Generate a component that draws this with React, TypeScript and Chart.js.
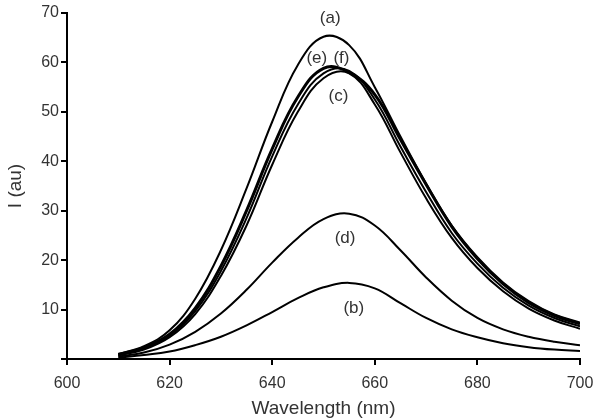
import React, { useEffect, useRef } from "react";
import { Chart, registerables } from "chart.js";

Chart.register(...registerables);

const wavelengths = [610, 615, 620, 625, 630, 635, 640, 645, 650, 655, 660, 665, 670, 675, 680, 685, 690, 695, 700];

const seriesA = [1.0, 2.6, 5.8, 12.2, 22, 34.5, 48, 59.5, 65.2, 63.5, 55, 45, 35.5, 27, 20.6, 15.5, 11.7, 9.0, 7.4];
const seriesE = [0.9, 2.3, 5.0, 10.3, 18.8, 30, 42.5, 53, 58.8, 58, 53.5, 44.4, 35.3, 26.8, 20.3, 15.2, 11.4, 8.8, 7.1];
const seriesF = [0.8, 2.1, 4.7, 9.7, 17.8, 28.5, 41, 51.5, 57.8, 58.3, 52.5, 43, 33.8, 25.5, 19.3, 14.4, 10.8, 8.3, 6.6];
const seriesC = [0.7, 1.9, 4.4, 9.1, 16.8, 27, 39.3, 50, 56.8, 57.8, 51.5, 41.8, 32.5, 24.5, 18.4, 13.7, 10.2, 7.8, 6.1];
const seriesD = [0.5, 1.3, 2.9, 5.5, 9.2, 14, 19.5, 24.5, 28.3, 29.4, 27, 22, 16.5, 11.8, 8.3, 6.0, 4.5, 3.5, 2.8];
const seriesB = [0.3, 0.8, 1.5, 2.8, 4.5, 6.8, 9.5, 12.3, 14.5, 15.4, 14.3, 11.3, 8.3, 6.0, 4.4, 3.2, 2.4, 1.9, 1.6];

const curveLabels = ["(a)", "(e)", "(f)", "(c)", "(d)", "(b)"];
const labelX = [651.3, 648.7, 653.5, 652.9, 654.2, 655.9];
const labelY = [69.0, 60.8, 60.8, 53.1, 24.4, 10.3];

const toPts = (ys: number[]) => ys.map((y, i) => ({ x: wavelengths[i], y }));

const FONT = "'Liberation Sans', Arial, sans-serif";

const labelPlugin = {
  id: "curveLabels",
  afterDatasetsDraw(chart: any) {
    const { ctx, scales } = chart;
    ctx.save();
    ctx.fillStyle = "#333";
    ctx.font = "17px " + FONT;
    ctx.textAlign = "center";
    ctx.textBaseline = "middle";
    curveLabels.forEach((t, i) => {
      ctx.fillText(t, scales.x.getPixelForValue(labelX[i]), scales.y.getPixelForValue(labelY[i]));
    });
    ctx.restore();
  },
};

export default function App() {
  const ref = useRef<HTMLCanvasElement | null>(null);
  useEffect(() => {
    document.body.style.margin = "0";
    const mk = (data: number[], w: number) => ({
      data: toPts(data),
      borderColor: "#000",
      borderWidth: w,
      pointRadius: 0,
      fill: false,
      tension: 0.4,
    });
    const chart = new Chart(ref.current!, {
      type: "line",
      data: {
        datasets: [mk(seriesA, 2), mk(seriesE, 3), mk(seriesF, 2), mk(seriesC, 2), mk(seriesD, 2), mk(seriesB, 2)],
      },
      options: {
        animation: false,
        responsive: false,
        layout: { padding: { top: 13, right: 20, left: 0, bottom: 0 } },
        plugins: { legend: { display: false }, tooltip: { enabled: false } },
        scales: {
          x: {
            type: "linear",
            min: 600,
            max: 700,
            ticks: { stepSize: 20, color: "#333", font: { family: FONT, size: 16 }, padding: 9 },
            grid: { display: true, drawOnChartArea: false, drawTicks: true, tickLength: 6, color: "#000", lineWidth: 2 },
            border: { display: true, color: "#000", width: 2 },
            title: { display: true, text: "Wavelength (nm)", color: "#333", font: { family: FONT, size: 19 }, padding: { top: 0, bottom: 0 } },
            afterFit: (s: any) => { s.height = 61; s.paddingLeft = 0; s.paddingRight = 0; },
          },
          y: {
            min: 0,
            max: 70,
            ticks: {
              stepSize: 10,
              color: "#333",
              font: { family: FONT, size: 16 },
              padding: 2,
              callback: (v: any) => (v === 0 ? "" : String(v)),
            },
            grid: { display: true, drawOnChartArea: false, drawTicks: true, tickLength: 6, color: "#000", lineWidth: 2 },
            border: { display: true, color: "#000", width: 2 },
            title: { display: true, text: "I (au)", color: "#333", font: { family: FONT, size: 19 }, padding: { top: 4, bottom: 0 } },
            afterFit: (s: any) => { s.width = 67; s.paddingTop = 0; s.paddingBottom = 0; },
          },
        },
      },
      plugins: [labelPlugin],
    });
    return () => chart.destroy();
  }, []);
  return (
    <div style={{ width: 600, height: 420 }}>
      <canvas ref={ref} width={600} height={420} />
    </div>
  );
}
